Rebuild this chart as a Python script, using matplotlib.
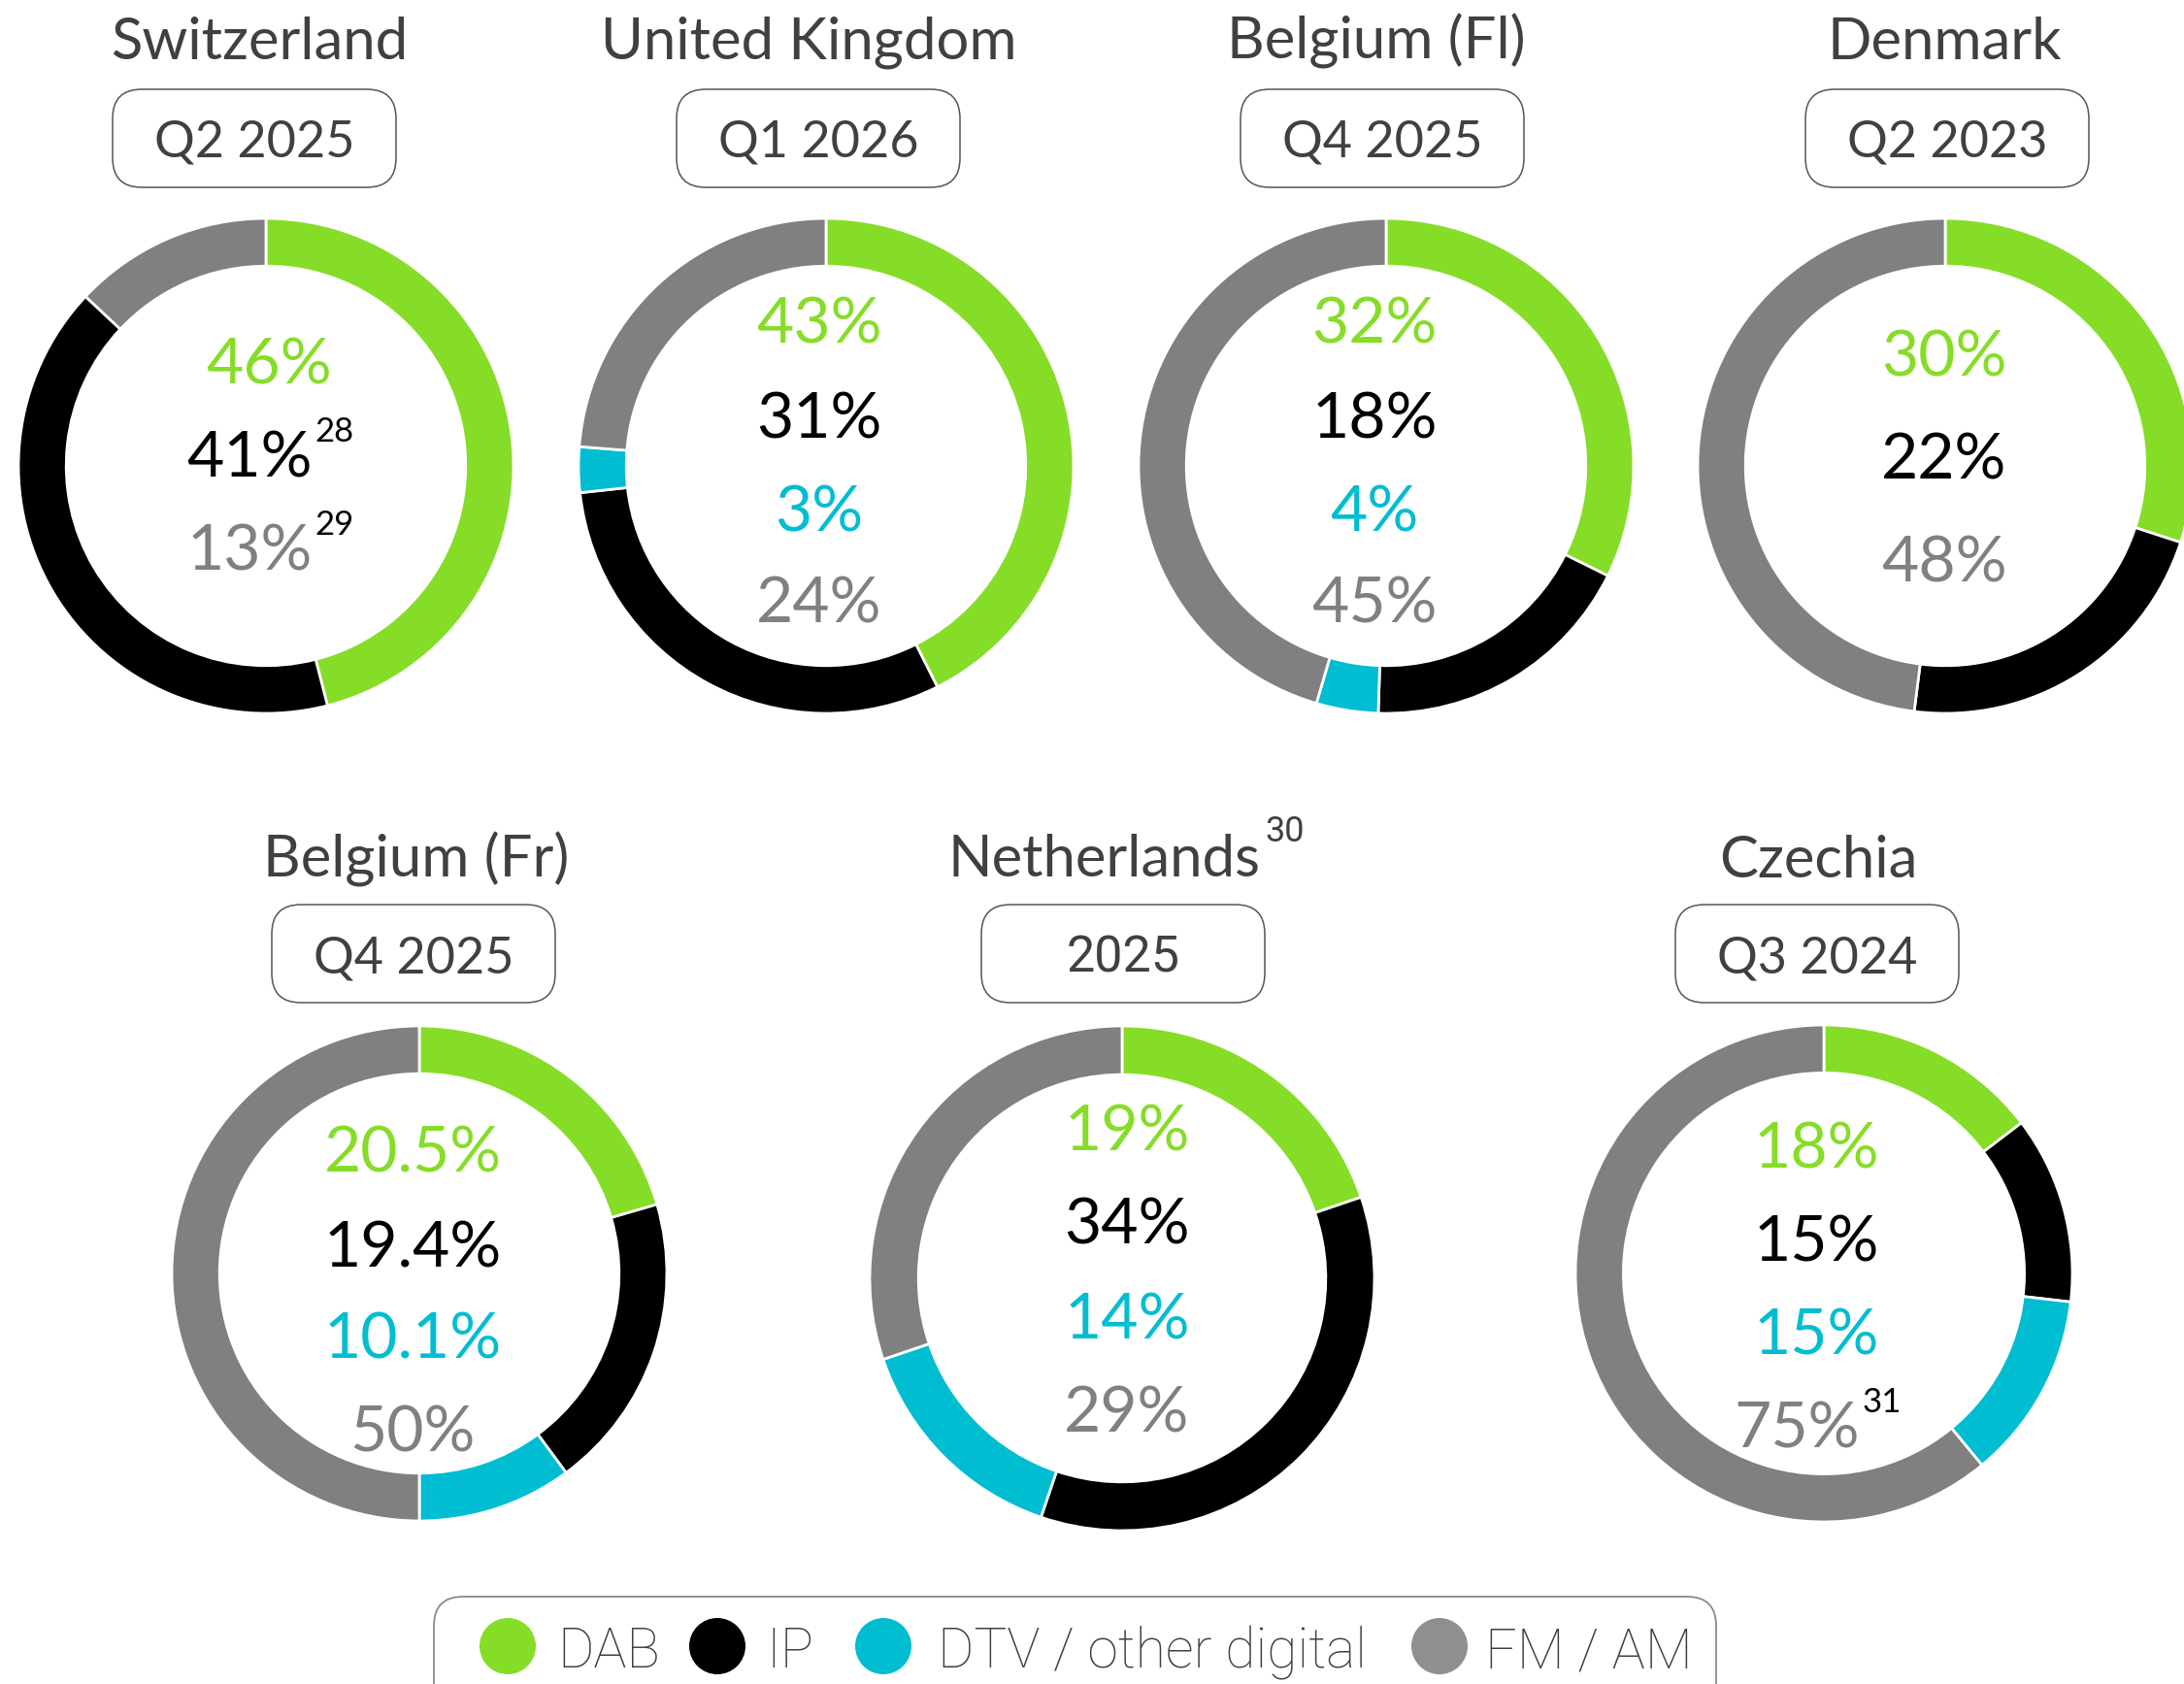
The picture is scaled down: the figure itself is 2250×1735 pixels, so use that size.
import matplotlib.pyplot as plt
from matplotlib.patches import FancyBboxPatch, Circle

W, H = 2250, 1735

# share of radio listening by platform, per market
countries = ['Switzerland', 'United Kingdom', 'Belgium (Fl)', 'Denmark',
             'Belgium (Fr)', 'Netherlands', 'Czechia']
periods = ['Q2 2025', 'Q1 2026', 'Q4 2025', 'Q2 2023', 'Q4 2025', '2025', 'Q3 2024']
dab = [46, 43, 32, 30, 20.5, 19, 18]
ip = [41, 31, 18, 22, 19.4, 34, 15]
dtv = [None, 3, 4, None, 10.1, 14, 15]
fm = [13, 24, 45, 48, 50, 29, 75]

series = ['DAB', 'IP', 'DTV / other digital', 'FM / AM']
colors = ['#86dd27', '#000000', '#00bdd1', '#808080']
legend_colors = ['#86dd27', '#000000', '#00bdd1', '#8f8f8f']

# footnote markers
title_notes = {'Netherlands': '30'}
value_notes = {('Switzerland', 1): '28', ('Switzerland', 3): '29', ('Czechia', 3): '31'}

# layout (pixel positions, y measured from the top)
title_x = [267, 833, 1418, 2003, 429, 1138, 1873]
title_base = [61, 61, 61, 61, 904, 903, 904]
box_cx = [262, 843, 1424, 2006, 426, 1157, 1872]
box_top = [92, 92, 92, 92, 932, 932, 932]
donut_cx = [274, 851, 1428, 2004, 432, 1156, 1879]
donut_cy = [480, 480, 480, 480, 1312, 1317, 1312]
donut_r = [255, 255, 255, 255, 255, 260, 256]
label_x = [277, 844, 1416, 2003, 425, 1161, 1871]
label_base = [[395, 491, 587], [354, 451, 548, 642], [354, 451, 548, 642],
              [388, 494, 599], [1208, 1305, 1399, 1496], [1186, 1282, 1379, 1475],
              [1203, 1300, 1395, 1491]]

TXT = '#404040'
MAIN = 'Lato'
COND = 'Roboto'

fig = plt.figure(figsize=(W / 100, H / 100), dpi=100)
ax = fig.add_axes([0, 0, 1, 1])


def Y(y):
    return H - y


for i, name in enumerate(countries):
    vals = [dab[i], ip[i], dtv[i], fm[i]]
    keep = [k for k, v in enumerate(vals) if v is not None]

    ax.pie([vals[k] for k in keep], colors=[colors[k] for k in keep],
           center=(donut_cx[i], Y(donut_cy[i])), radius=donut_r[i],
           startangle=90, counterclock=False, frame=True,
           wedgeprops=dict(width=donut_r[i] * 0.193, edgecolor='white', linewidth=2))

    # country name
    t = ax.text(title_x[i], Y(title_base[i]), name, ha='center', va='baseline',
                fontsize=43, color=TXT, family=MAIN)
    if name in title_notes:
        ax.annotate(title_notes[name], xy=(1, Y(title_base[i] - 36)),
                    xycoords=(t, 'data'), xytext=(3, 0), textcoords='offset points',
                    ha='left', va='baseline', fontsize=26, color=TXT, family=COND)

    # survey period box
    bw, bh = 292, 101
    ax.add_patch(FancyBboxPatch((box_cx[i] - bw / 2, Y(box_top[i] + bh)), bw, bh,
                                boxstyle='round,pad=0,rounding_size=30',
                                fc='none', ec='#555555', lw=1.1))
    period_font = COND if periods[i] == '2025' else MAIN
    ax.text(box_cx[i], Y(box_top[i] + 70), periods[i], ha='center', va='baseline',
            fontsize=37.5, color=TXT, family=period_font)

    # values in the middle of the ring
    for k, yb in zip(keep, label_base[i]):
        note = value_notes.get((name, k))
        x = label_x[i] - 20 if note else label_x[i]
        t = ax.text(x, Y(yb), f'{vals[k]:g}%', ha='center', va='baseline',
                    fontsize=47.5, color=colors[k], family=MAIN)
        if note:
            ax.annotate(note, xy=(1, Y(yb - 36)), xycoords=(t, 'data'),
                        xytext=(2, 0), textcoords='offset points',
                        ha='left', va='baseline', fontsize=25, color='black',
                        family=MAIN)

# legend strip along the bottom
ax.add_patch(FancyBboxPatch((447, -60), 1768 - 447, Y(1645) + 60,
                            boxstyle='round,pad=0,rounding_size=30',
                            fc='none', ec='#8a8a8a', lw=1.3))
dot_x = [523, 739, 910, 1483]
text_x = [574, 789, 966, 1530]
for lbl, c, dx, tx in zip(series, legend_colors, dot_x, text_x):
    ax.add_patch(Circle((dx, Y(1696)), 29, fc=c, ec='none'))
    ax.text(tx, Y(1718), lbl, ha='left', va='baseline', fontsize=41,
            color=TXT, family=COND, fontweight='light')

ax.set_xlim(0, W)
ax.set_ylim(0, H)
ax.set_aspect('equal')
ax.axis('off')

fig.savefig('out.png', dpi=100, facecolor='white')
